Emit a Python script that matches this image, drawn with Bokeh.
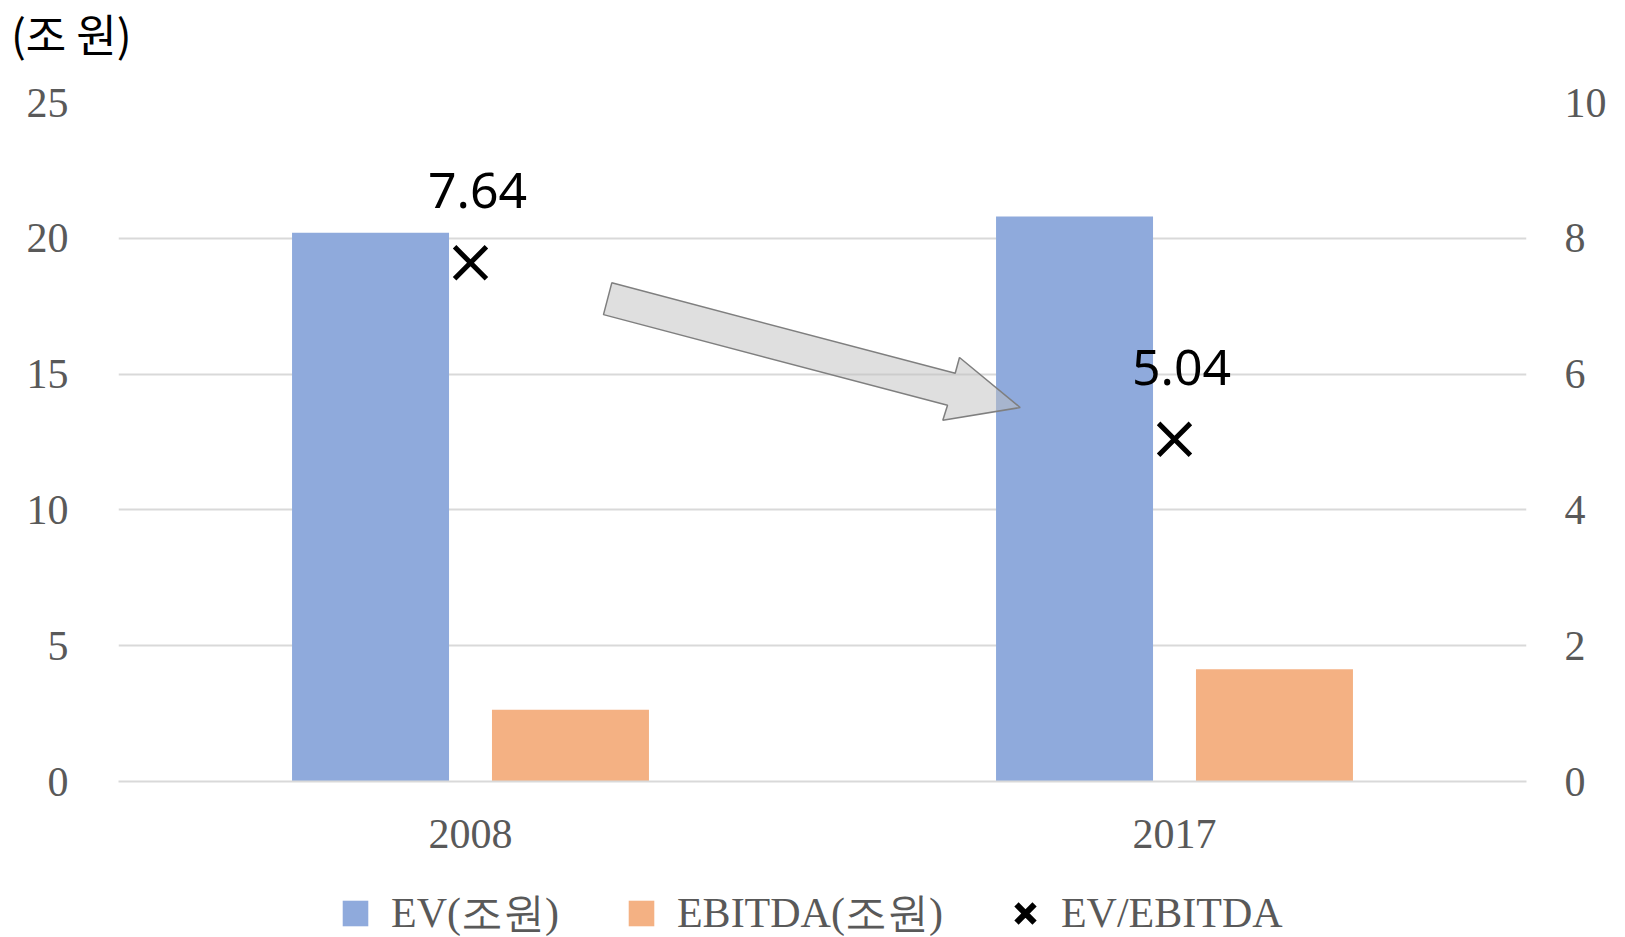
import numpy as np
from bokeh.plotting import figure
from bokeh.layouts import column
from bokeh.models import (Range1d, LinearAxis, FixedTicker, Legend, LegendItem,
                          Label, ColumnDataSource)
from bokeh.transform import dodge
from bokeh.core.properties import value
from bokeh.embed import file_html
from bokeh.resources import INLINE

# ---- data ----
years = ["2008", "2017"]
ev = [20.2, 20.8]            # EV (조원)
ebitda = [2.64, 4.13]        # EBITDA (조원)
ratio = [7.64, 5.04]         # EV/EBITDA
ratio_labels = ["7.64", "5.04"]
left_ticks = [0, 5, 10, 15, 20, 25]
right_ticks = [0, 2, 4, 6, 8, 10]
unit_label = "(조 원)"
legend_labels = ["EV(조원)", "EBITDA(조원)", "EV/EBITDA"]

# decorative block arrow (annotation shape, in chart coordinates)
arrow_x = [0.7007, 1.1885, 1.1946, 1.2808, 1.1709, 1.1776, 0.6889]
arrow_y = [18.36, 15.03, 15.61, 13.77, 13.30, 13.85, 17.19]

SERIF = "Liberation Serif"
GRAY = "#595959"
BLUE = "#8FAADC"
ORANGE = "#F4B183"
W = 1617

pos = [i + 0.5 for i in range(len(years))]
src = ColumnDataSource(dict(pos=pos, year=years, ev=ev, ebitda=ebitda,
                            ratio=ratio, lbl=ratio_labels))

# ---------------- top strip with unit label ----------------
TOP_H = 72
top = figure(width=W, height=TOP_H, output_backend="svg", toolbar_location=None,
             x_range=Range1d(0, W), y_range=Range1d(TOP_H, 0),
             x_axis_location=None, y_axis_location=None, min_border=0,
             frame_align=False)
top.outline_line_color = None
top.grid.visible = False
top.add_layout(Label(x=10.5, y=32, text=unit_label, text_font="Noto Sans CJK KR",
                     text_font_size="44px", text_color="black",
                     text_baseline="middle", text_align="left"))

# ---------------- main chart ----------------
p = figure(width=W, height=813, output_backend="svg", toolbar_location=None,
           x_range=Range1d(0, len(years)), y_range=Range1d(0, 25),
           min_border_left=118, min_border_right=91, min_border_top=30,
           min_border_bottom=104, frame_align=False)
p.extra_y_ranges = {"right": Range1d(0, 10)}
p.outline_line_color = None

p.xgrid.visible = False
p.ygrid.ticker = FixedTicker(ticks=left_ticks)
p.ygrid.grid_line_color = "#D9D9D9"
p.ygrid.grid_line_width = 2

xa = p.xaxis[0]
xa.ticker = FixedTicker(ticks=pos)
xa.major_label_overrides = {pv: y for pv, y in zip(pos, years)}
xa.axis_line_color = "#D9D9D9"
xa.axis_line_width = 2
xa.major_tick_line_color = None
xa.minor_tick_line_color = None
xa.major_label_text_font = SERIF
xa.major_label_text_font_size = "42px"
xa.major_label_text_color = GRAY
xa.major_label_standoff = 32

ya = p.yaxis[0]
ya.ticker = FixedTicker(ticks=left_ticks)
ya.axis_line_color = None
ya.major_tick_line_color = None
ya.minor_tick_line_color = None
ya.major_label_text_font = SERIF
ya.major_label_text_font_size = "42px"
ya.major_label_text_color = GRAY
ya.major_label_standoff = 44

ra = LinearAxis(y_range_name="right", ticker=FixedTicker(ticks=right_ticks))
ra.axis_line_color = None
ra.major_tick_line_color = None
ra.minor_tick_line_color = None
ra.major_label_text_font = SERIF
ra.major_label_text_font_size = "42px"
ra.major_label_text_color = GRAY
ra.major_label_standoff = 32
p.add_layout(ra, "right")

bw = 0.223
off = 0.142
p.vbar(x=dodge("pos", -off, range=p.x_range), top="ev", width=bw,
       source=src, fill_color=BLUE, line_color=None)
p.vbar(x=dodge("pos", off, range=p.x_range), top="ebitda", width=bw,
       source=src, fill_color=ORANGE, line_color=None)

p.patch(arrow_x, arrow_y, fill_color="#BFBFBF", fill_alpha=0.5,
        line_color="#7F7F7F", line_width=1.5)

p.scatter(x="pos", y="ratio", source=src, y_range_name="right",
          marker="x", size=45, line_color="black", line_width=5)
p.text(x="pos", y="ratio", text="lbl", source=src, y_range_name="right",
       x_offset=7, y_offset=-72, text_align="center", text_baseline="middle",
       text_font=value("Noto Sans"), text_font_size="50px", text_color="black")

# ---------------- legend strip ----------------
LEG_H = 52
leg = figure(width=W, height=LEG_H, output_backend="svg", toolbar_location=None,
             x_range=Range1d(0, W), y_range=Range1d(LEG_H, 0),
             x_axis_location=None, y_axis_location=None, min_border=0,
             frame_align=False)
leg.outline_line_color = None
leg.grid.visible = False
# swatch renderers: size 0 so nothing is drawn in the strip itself
l_ev = leg.scatter(x="pos", y="ev", source=src, marker="square", size=0,
                   fill_color=BLUE, line_color=None)
l_eb = leg.scatter(x="pos", y="ebitda", source=src, marker="square", size=0,
                   fill_color=ORANGE, line_color=None)
l_x = leg.scatter(x="pos", y="ratio", source=src, marker="x", size=0,
                  line_color="black", line_width=6)
legend = Legend(items=[LegendItem(label=legend_labels[0], renderers=[l_ev]),
                       LegendItem(label=legend_labels[1], renderers=[l_eb]),
                       LegendItem(label=legend_labels[2], renderers=[l_x])],
                orientation="horizontal", background_fill_alpha=0,
                border_line_color=None, padding=0, margin=0,
                label_text_font=SERIF, label_text_font_size="42px",
                label_text_color=GRAY, glyph_width=64, glyph_height=64,
                label_standoff=4, spacing=50, location=(323, -8))
leg.add_layout(legend, "center")

layout = column(top, p, leg, spacing=0)
open("out.html", "w").write(file_html(layout, INLINE))
